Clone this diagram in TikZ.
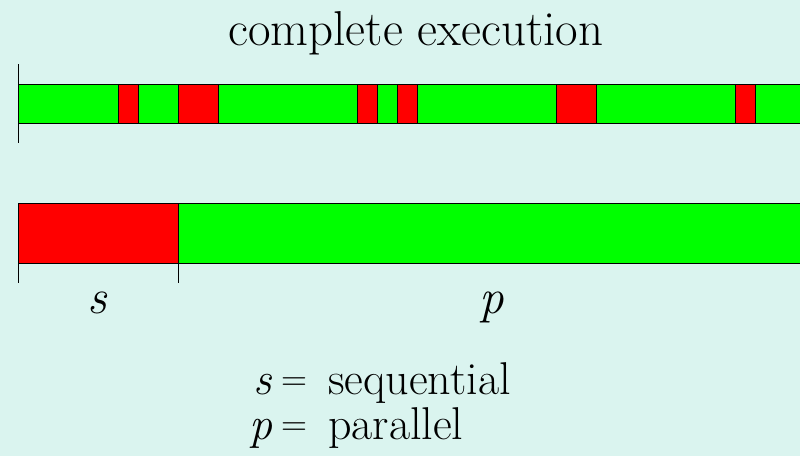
\documentclass[tikz,border=0pt]{standalone}
\usepackage{fontspec}
\usetikzlibrary{positioning}
\definecolor{bg}{HTML}{DAF4EF}
\definecolor{par}{HTML}{00FF00}
\definecolor{seq}{HTML}{FF0000}
\definecolor{ink}{HTML}{000000}
\tikzset{
  every node/.style={font=\fontsize{49}{58}\selectfont,text=ink,inner sep=0pt},
  parbox/.style={draw=ink,fill=par,line width=1pt},
  seqbox/.style={draw=ink,fill=seq,line width=1pt},
  tick/.style={draw=ink,line width=1pt},
  lbl/.style={anchor=base},
  eqn/.style={anchor=base west,font=\fontsize{46}{54}\selectfont},
  eqsign/.style={eqn,font=\fontsize{36}{44}\selectfont},
}
\begin{document}
\begin{tikzpicture}[x=1pt,y=-1pt]
  \fill[bg] (0,0) rectangle (800,456);
  \useasboundingbox (0,0) rectangle (800,456);
  \node[lbl] (title) at (416,45) {complete execution};

  % mixed run
  \draw[parbox] (18,84) rectangle (812,123);
  \foreach \a/\b in {118/138,178/218,357/377,397/417,556/596,735/755}
    \draw[seqbox] (\a,84) rectangle (\b,123);
  \draw[tick] (18,64) -- (18,143);

  % same run, grouped
  \draw[seqbox] (18,203) rectangle (178,263);
  \draw[parbox] (178,203) rectangle (812,263);
  \draw[tick] (18,203) -- (18,283);
  \draw[tick] (178,203) -- (178,283);
  \node[lbl] (s) at (97,313) {\itshape s};
  \node[lbl] (p) at (492,313) {\itshape p};

  \node[eqn] (seqsym) at (253,394) {\itshape s};
  \node[eqsign] (seqeq) at (281,390) {=};
  \node[eqn] (seqtxt) at (328,394) {sequential};
  \node[eqn] (parsym) at (249,439) {\itshape p};
  \node[eqsign] (pareq) at (281,435) {=};
  \node[eqn] (partxt) at (328,439) {parallel};
\end{tikzpicture}
\end{document}
